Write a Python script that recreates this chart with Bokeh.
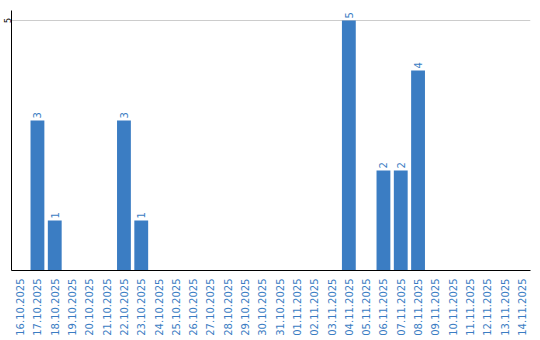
import math
from bokeh.plotting import figure
from bokeh.models import ColumnDataSource, FactorRange, Range1d, FixedTicker
from bokeh.core.properties import value
from bokeh.embed import file_html
from bokeh.resources import INLINE

dates = ["16.10.2025", "17.10.2025", "18.10.2025", "19.10.2025", "20.10.2025",
         "21.10.2025", "22.10.2025", "23.10.2025", "24.10.2025", "25.10.2025",
         "26.10.2025", "27.10.2025", "28.10.2025", "29.10.2025", "30.10.2025",
         "31.10.2025", "01.11.2025", "02.11.2025", "03.11.2025", "04.11.2025",
         "05.11.2025", "06.11.2025", "07.11.2025", "08.11.2025", "09.11.2025",
         "10.11.2025", "11.11.2025", "12.11.2025", "13.11.2025", "14.11.2025"]
counts = [0, 3, 1, 0, 0, 0, 3, 1, 0, 0,
          0, 0, 0, 0, 0, 0, 0, 0, 0, 5,
          0, 2, 2, 4, 0, 0, 0, 0, 0, 0]

BLUE = "#3b7dc3"
FONT = "DejaVu Sans"

src = ColumnDataSource(dict(x=dates, y=counts))
lab_x = [d for d, c in zip(dates, counts) if c > 0]
lab_y = [c for c in counts if c > 0]
lab_src = ColumnDataSource(dict(x=lab_x, y=lab_y, t=[str(c) for c in lab_y]))

p = figure(x_range=FactorRange(*dates), y_range=Range1d(0, 5.2),
           width=540, height=340, output_backend="svg", toolbar_location=None,
           min_border_left=10, min_border_right=10, min_border_top=10,
           min_border_bottom=70)
p.outline_line_color = None
p.background_fill_color = "white"

p.vbar(x="x", top="y", width=0.8, source=src, fill_color=BLUE, line_color=None)
p.text(x="x", y="y", text="t", source=lab_src, angle=math.pi / 2,
       text_align="left", text_baseline="middle", y_offset=-2,
       text_font=value(FONT), text_font_size="10px", text_color=BLUE)

p.xgrid.grid_line_color = None
p.ygrid.grid_line_color = "#cccccc"
p.ygrid.ticker = FixedTicker(ticks=[5])

p.x_range.range_padding = 0
p.xaxis.major_label_orientation = math.pi / 2
p.xaxis.major_label_text_font = FONT
p.xaxis.major_label_text_font_size = "10px"
p.xaxis.major_label_text_color = BLUE
p.xaxis.major_label_standoff = 8
p.xaxis.major_tick_out = 0
p.xaxis.major_tick_in = 0
p.xaxis.minor_tick_out = 0
p.xaxis.minor_tick_in = 0
p.xaxis.major_tick_line_color = None
p.xaxis.minor_tick_line_color = None
p.xaxis.axis_line_color = "black"
p.xaxis.group_text_font_size = "0px"

p.yaxis.ticker = FixedTicker(ticks=[5])
p.yaxis.major_label_orientation = "vertical"
p.yaxis.major_label_text_font = FONT
p.yaxis.major_label_text_font_size = "8px"
p.yaxis.major_label_text_color = "black"
p.yaxis.major_label_standoff = 1
p.yaxis.major_tick_out = 0
p.yaxis.major_tick_in = 0
p.yaxis.minor_tick_out = 0
p.yaxis.minor_tick_in = 0
p.yaxis.major_tick_line_color = None
p.yaxis.minor_tick_line_color = None
p.yaxis.axis_line_color = "black"

open("out.html", "w").write(file_html(p, INLINE))
